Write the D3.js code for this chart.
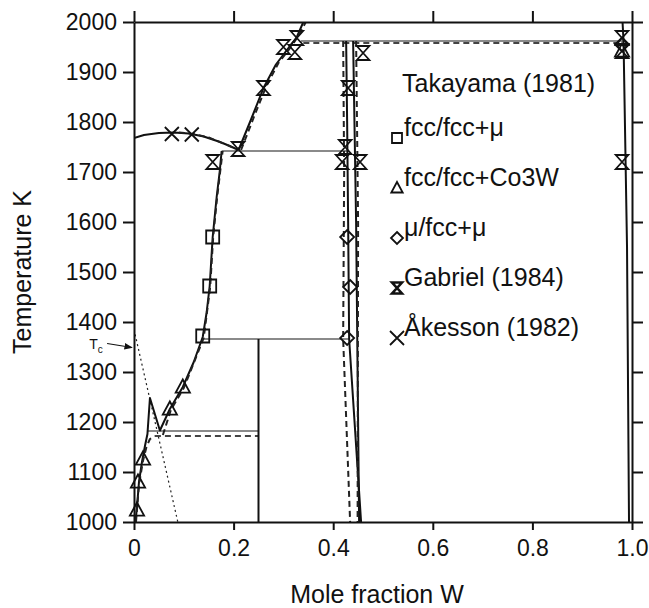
<!DOCTYPE html>
<html>
<head>
<meta charset="utf-8">
<script src="https://cdn.jsdelivr.net/npm/d3@7"></script>
<style>
  body { margin: 0; background: #fff; }
  svg text { font-family: "Liberation Sans", Arial, Helvetica, sans-serif; fill: #111; }
</style>
</head>
<body>
<svg id="chart" width="649" height="608"></svg>
<script>
// ---- axis ticks ----
const xTicks = [0, 0.2, 0.4, 0.6, 0.8, 1.0];
const xTickLabels = ["0", "0.2", "0.4", "0.6", "0.8", "1.0"];
const yTicks = [1000, 1100, 1200, 1300, 1400, 1500, 1600, 1700, 1800, 1900, 2000];
const yTickLabels = ["1000", "1100", "1200", "1300", "1400", "1500", "1600", "1700", "1800", "1900", "2000"];

// ---- calculated phase boundaries [x(W), T(K)] ----
const coLiquidus = [[0, 1768], [0.02, 1774], [0.05, 1778], [0.08, 1779], [0.11, 1777], [0.14, 1771], [0.17, 1761], [0.19, 1753], [0.21, 1744]];
const coLiquidusAlt = [[0.09, 1779], [0.12, 1776], [0.15, 1769], [0.18, 1757], [0.205, 1746]];
const fccBoundary = [[0.003, 1000], [0.006, 1030], [0.01, 1080], [0.016, 1120], [0.022, 1152], [0.027, 1176], [0.032, 1248], [0.052, 1183], [0.072, 1226], [0.098, 1270], [0.12, 1320], [0.138, 1370], [0.146, 1420], [0.152, 1472], [0.158, 1570], [0.166, 1650], [0.172, 1700], [0.176, 1742]];
const fccBoundaryAltLow = [[0.004, 1000], [0.01, 1075], [0.018, 1122], [0.025, 1150], [0.032, 1166], [0.042, 1172]];
const fccBoundaryAltHigh = [[0.058, 1174], [0.074, 1224], [0.1, 1268], [0.14, 1368], [0.153, 1470], [0.159, 1570], [0.167, 1650], [0.178, 1742]];
const muLiquidus = [[0.21, 1744], [0.235, 1805], [0.26, 1868], [0.285, 1915], [0.307, 1944], [0.327, 1970], [0.34, 2000]];
const muLiquidusAlt = [[0.215, 1744], [0.24, 1808], [0.265, 1870], [0.29, 1918], [0.312, 1946], [0.33, 1972], [0.345, 2000]];
const muLeft = [[0.426, 1962], [0.428, 1800], [0.43, 1600], [0.432, 1366], [0.456, 1000]];
const muLeftAlt = [[0.42, 1962], [0.422, 1700], [0.42, 1366], [0.434, 1000]];
const muRight = [[0.44, 1962], [0.446, 1600], [0.452, 1000]];
const muRightAlt = [[0.446, 1962], [0.45, 1600], [0.449, 1000]];
const wSolvus = [[0.981, 2000], [0.983, 1962], [0.99, 1550], [0.994, 1000]];
const co3wLine = [[0.25, 1000], [0.25, 1366]];
const curieLine = [[0, 1385], [0.088, 1000]];

// invariant isotherms
const iso1960 = [[0.335, 1962], [0.983, 1962]];
const iso1960Alt = [[0.34, 1958], [0.983, 1958]];
const iso1742 = [[0.176, 1742], [0.432, 1742]];
const iso1366 = [[0.138, 1366], [0.432, 1366]];
const iso1182 = [[0.028, 1182], [0.25, 1182]];
const iso1172Alt = [[0.042, 1172], [0.25, 1172]];

// ---- experimental points ----
const takayamaFccMu = [[0.138, 1372], [0.152, 1472], [0.158, 1570]];
const takayamaFccCo3W = [[0.006, 1024], [0.008, 1080], [0.018, 1126], [0.072, 1226], [0.098, 1270], [0.98, 1942]];
const takayamaMu = [[0.428, 1368], [0.434, 1470], [0.428, 1570], [0.98, 1955]];
const gabriel = [[0.158, 1720], [0.209, 1746], [0.26, 1868], [0.30, 1950], [0.323, 1940], [0.327, 1968], [0.424, 1750], [0.418, 1720], [0.454, 1720], [0.43, 1868], [0.46, 1938], [0.98, 1968], [0.98, 1942], [0.98, 1720]];
const akesson = [[0.076, 1776], [0.116, 1775]];

const legendLabels = ["fcc/fcc+\u03bc", "fcc/fcc+Co3W", "\u03bc/fcc+\u03bc", "Gabriel (1984)", "\u00c5kesson (1982)"];
const legendTitle = "Takayama (1981)";

// ---- layout ----
const svg = d3.select("#chart");
const m = { left: 134, right: 632, top: 22, bottom: 522 };
const x = d3.scaleLinear().domain([0, 1]).range([m.left, m.right]);
const y = d3.scaleLinear().domain([1000, 2000]).range([m.bottom, m.top]);

// clip to the plotting frame
const defs = svg.append("defs");
defs.append("clipPath").attr("id", "plotClip")
  .append("rect").attr("x", m.left).attr("y", m.top)
  .attr("width", m.right - m.left).attr("height", m.bottom - m.top);

const line = d3.line().x(d => x(d[0])).y(d => y(d[1]));
const plot = svg.append("g").attr("clip-path", "url(#plotClip)");

function drawLine(data, color, width, dash) {
  plot.append("path").datum(data)
    .attr("d", line)
    .attr("fill", "none")
    .attr("stroke", color)
    .attr("stroke-width", width)
    .attr("stroke-linejoin", "round")
    .attr("stroke-dasharray", dash || null);
}

// isotherms (grey) and their dashed counterparts
[iso1960, iso1742, iso1366, iso1182].forEach(d => drawLine(d, "#8a8a8a", 2.2));
[iso1960Alt, iso1172Alt].forEach(d => drawLine(d, "#444", 1.8, "6,4"));

// Curie temperature
drawLine(curieLine, "#222", 1.2, "2,3");

// phase boundaries
[coLiquidus, fccBoundary, muLiquidus, muLeft, muRight, wSolvus, co3wLine]
  .forEach(d => drawLine(d, "#111", 2));
[coLiquidusAlt, fccBoundaryAltLow, fccBoundaryAltHigh, muLiquidusAlt, muLeftAlt, muRightAlt]
  .forEach(d => drawLine(d, "#222", 2, "6,4"));

// ---- marker shapes ----
function markerPath(type, s) {
  switch (type) {
    case "square": return `M${-s},${-s}H${s}V${s}H${-s}Z`;
    case "triangle": return `M0,${-s}L${s * 0.95},${s * 0.75}H${-s * 0.95}Z`;
    case "diamond": return `M0,${-s}L${s},0L0,${s}L${-s},0Z`;
    case "hourglass": return `M${-s * 0.9},${-s}H${s * 0.9}L${-s * 0.9},${s}H${s * 0.9}Z`;
    case "cross": return `M${-s},${-s}L${s},${s}M${s},${-s}L${-s},${s}`;
  }
}
function drawMarkers(data, type, s) {
  svg.append("g").selectAll("path").data(data).join("path")
    .attr("transform", d => `translate(${x(d[0])},${y(d[1])})`)
    .attr("d", markerPath(type, s))
    .attr("fill", "none")
    .attr("stroke", "#111")
    .attr("stroke-width", 1.8)
    .attr("stroke-linejoin", "miter");
}
drawMarkers(takayamaFccMu, "square", 6.5);
drawMarkers(takayamaFccCo3W, "triangle", 7.5);
drawMarkers(takayamaMu, "diamond", 7);
drawMarkers(gabriel, "hourglass", 7);
drawMarkers(akesson, "cross", 7);

// ---- axes ----
const axisStyle = g => {
  g.select(".domain").attr("stroke", "#111").attr("stroke-width", 2);
  g.selectAll(".tick line").attr("stroke", "#111").attr("stroke-width", 2);
};
svg.append("g").attr("transform", `translate(0,${m.bottom})`)
  .call(d3.axisBottom(x).tickValues(xTicks).tickSize(8).tickSizeOuter(0)
    .tickPadding(10).tickFormat((d, i) => xTickLabels[i]))
  .call(axisStyle)
  .call(g => g.selectAll(".tick text").attr("font-size", 23).attr("fill", "#111"));
svg.append("g").attr("transform", `translate(${m.left},0)`)
  .call(d3.axisLeft(y).tickValues(yTicks).tickSize(11).tickSizeOuter(0)
    .tickPadding(6).tickFormat((d, i) => yTickLabels[i]))
  .call(axisStyle)
  .call(g => g.selectAll(".tick text").attr("font-size", 23).attr("fill", "#111"));
svg.append("g").attr("transform", `translate(0,${m.top})`)
  .call(d3.axisTop(x).tickValues(xTicks).tickSize(11).tickSizeOuter(0).tickFormat(""))
  .call(axisStyle);
svg.append("g").attr("transform", `translate(${m.right},0)`)
  .call(d3.axisRight(y).tickValues(yTicks).tickSize(11).tickSizeOuter(0).tickFormat(""))
  .call(axisStyle);

// axis titles
svg.append("text")
  .attr("x", (m.left + m.right) / 2 - 6).attr("y", 603)
  .attr("text-anchor", "middle").attr("font-size", 25)
  .text("Mole fraction W");
svg.append("text")
  .attr("transform", `translate(31,${(m.top + m.bottom) / 2}) rotate(-90)`)
  .attr("text-anchor", "middle").attr("font-size", 25)
  .text("Temperature K");

// Curie temperature annotation
const tc = svg.append("text").attr("x", x(-0.09)).attr("y", y(1346)).attr("font-size", 14);
tc.append("tspan").text("T");
tc.append("tspan").attr("font-size", 10).attr("dy", 4).text("c");
defs.append("marker").attr("id", "arrowHead")
  .attr("viewBox", "0 0 10 10").attr("refX", 9).attr("refY", 5)
  .attr("markerWidth", 7).attr("markerHeight", 7).attr("orient", "auto")
  .append("path").attr("d", "M0,1L10,5L0,9Z").attr("fill", "#111");
svg.append("line")
  .attr("x1", x(-0.054)).attr("y1", y(1357))
  .attr("x2", x(-0.004)).attr("y2", y(1349))
  .attr("stroke", "#111").attr("stroke-width", 1.2)
  .attr("marker-end", "url(#arrowHead)");

// ---- legend ----
const lx = 397, ly0 = 92, lstep = 50;
svg.append("text").attr("x", lx + 5).attr("y", ly0).attr("font-size", 25).text(legendTitle);
const legendTypes = ["square", "triangle", "diamond", "hourglass", "cross"];
const legendSizes = [5, 6, 6, 5.5, 7];
legendLabels.forEach((label, i) => {
  const by = ly0 + lstep * (i + 1);
  svg.append("path")
    .attr("transform", `translate(${lx},${by - 4})`)
    .attr("d", markerPath(legendTypes[i], legendSizes[i]))
    .attr("fill", "none").attr("stroke", "#111")
    .attr("stroke-width", legendTypes[i] === "hourglass" ? 2.6 : 1.8);
  svg.append("text").attr("x", lx + 7).attr("y", by - 6).attr("font-size", 25).text(label);
});
</script>
</body>
</html>
